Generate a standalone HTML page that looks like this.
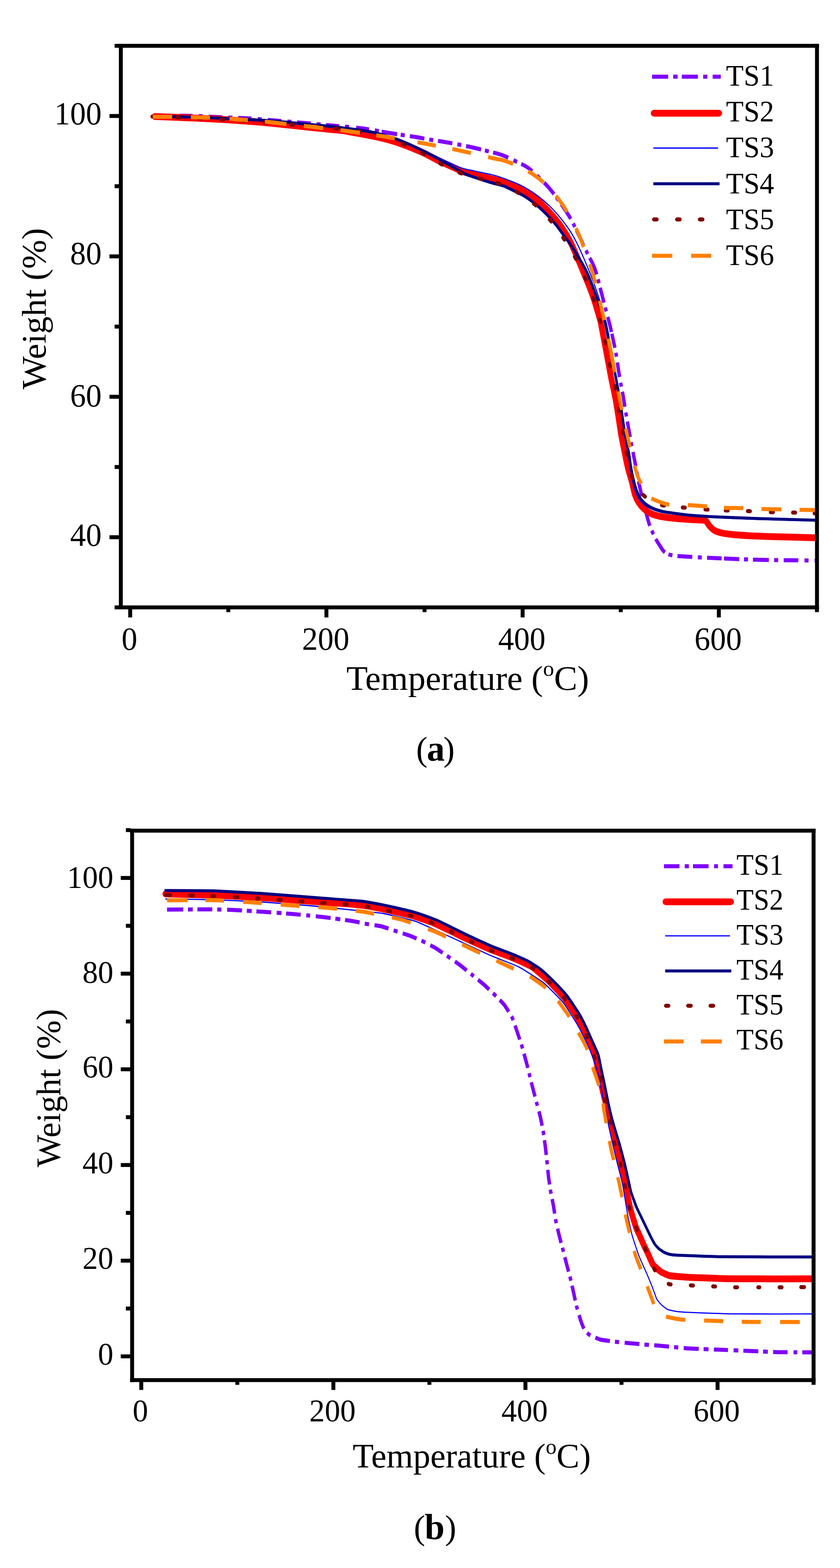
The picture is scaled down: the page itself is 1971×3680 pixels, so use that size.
<!DOCTYPE html>
<html lang="en"><head><meta charset="utf-8"><title>TGA curves</title>
<style>html,body{margin:0;padding:0;background:#fff}body{width:1971px;height:3680px;overflow:hidden}svg{display:block}text{font-family:"Liberation Serif","DejaVu Serif",serif;fill:#000}</style>
</head><body>
<svg width="1971" height="3680" viewBox="0 0 1971 3680">
<rect width="1971" height="3680" fill="#fff"/>
<clipPath id="clipa"><rect x="283.5" y="107.5" width="1633.5" height="1318.0"/></clipPath>
<g clip-path="url(#clipa)" fill="none" stroke-linejoin="round">
<g transform="scale(0.85 1)">
<path d="M421.2 272.5C436.9 272.4 484.7 271.3 515.3 271.7C545.9 272.1 574.9 273.9 604.7 275.0C634.5 276.1 672.9 277.3 694.1 278.3C715.3 279.3 708.8 279.4 731.8 281.0C754.7 282.6 802.4 285.8 831.8 288.0C861.2 290.2 880.6 291.9 908.2 294.1C935.9 296.3 971.2 298.2 997.6 301.0C1024.1 303.8 1048.0 308.2 1067.1 310.9C1086.1 313.6 1097.8 315.1 1111.8 317.0C1125.7 318.9 1137.5 320.1 1150.6 322.0C1163.7 323.9 1177.5 326.4 1190.6 328.3C1203.7 330.2 1216.5 331.6 1229.4 333.5C1242.4 335.4 1255.3 337.4 1268.2 339.6C1281.2 341.8 1294.4 344.1 1307.1 346.5C1319.7 348.9 1331.3 351.5 1344.2 354.3C1357.2 357.1 1371.7 359.6 1384.7 363.5C1397.7 367.4 1410.7 373.2 1422.4 378.0C1434.0 382.8 1444.3 386.0 1454.7 392.0C1465.1 398.0 1474.5 405.7 1484.7 414.0C1494.9 422.3 1506.3 432.0 1516.1 441.7C1525.9 451.4 1534.6 461.4 1543.5 472.0C1552.4 482.6 1562.5 495.6 1569.4 505.0C1576.3 514.5 1576.3 514.2 1584.7 528.7C1593.1 543.2 1610.3 574.7 1620.0 592.0C1629.7 609.3 1636.0 616.1 1642.8 632.5C1649.7 648.9 1655.1 671.1 1661.2 690.4C1667.2 709.7 1675.0 735.3 1679.1 748.4C1683.1 761.5 1681.8 755.9 1685.3 769.0C1688.7 782.1 1695.6 807.7 1699.8 827.0C1703.9 846.3 1707.0 868.1 1710.4 885.0C1713.7 901.9 1716.8 912.9 1720.0 928.4C1723.2 943.9 1724.7 955.2 1729.4 978.0C1734.1 1000.8 1744.3 1047.2 1748.2 1065.0C1752.2 1082.8 1749.7 1070.9 1752.9 1085.0C1756.2 1099.1 1761.5 1126.4 1767.8 1149.6C1774.0 1172.8 1784.6 1207.6 1790.2 1224.3C1795.9 1241.0 1797.7 1242.1 1801.5 1249.6C1805.3 1257.0 1809.5 1263.7 1812.9 1269.0C1816.4 1274.3 1819.0 1277.2 1822.0 1281.2C1825.0 1285.2 1828.0 1289.8 1831.2 1292.8C1834.4 1295.8 1837.4 1297.8 1841.2 1299.5C1845.0 1301.2 1849.3 1302.1 1854.1 1303.0C1858.9 1303.9 1860.6 1304.3 1870.1 1305.0C1879.6 1305.7 1897.3 1306.3 1910.9 1307.0C1924.5 1307.7 1923.2 1307.9 1951.8 1309.0C1980.3 1310.1 2031.2 1312.4 2082.4 1313.5C2133.5 1314.6 2229.4 1315.3 2258.8 1315.7" stroke="#7f00ff" stroke-width="9.5" stroke-linecap="butt" stroke-dasharray="28.6 15.4 11.1 19 36 16.9 11.1 16.7 38.1 16.2 11.1 16.3 36.7 17.2 11 17.1 37.3 16.7 11 15.7 38 16.3 11 15.1 37 15.5 11 19.5 36.1 16.2 11 7.8 43.4 9.9 11 14.4 40.5 13.7 11 13.2 40.1 14.2 11 13.3 42.3 10.8 11 12 43.6 15.5 10.8 12.5 34.6 16.8 10.3 15.7 38.4 9.3 10 11.8 43 12.7 9.7 8.9 39.4 14.4 9.7 10.6 43.7 12 9.5 11 36.7 11.8 9.5 13.8 36.9 4.3 33.7 12.2 9.5 13.6 34.6 13.8 9.5 12.1 36.3 13.5 9.5 12.2 37 12.5 9.5 13.6 35.3 12.9 9.5 13.4 36 14.5 9.5 12.2 36.7 12.4 9.7 12.7 40.6 10.9 11 14.2 40.9 15.4 11.1 14.4 40.4 6.4 42.1 13.2 11.1 13.6 43.9 14.7 11.1 15.2 40.3 17 11.1 16.6 10.7 5000"/>
<path d="M427.1 273.5C442.2 274.0 488.0 275.4 517.6 276.5C547.3 277.6 577.3 278.7 604.7 280.0C632.2 281.3 659.2 283.1 682.4 284.5C705.5 286.0 713.5 286.2 743.5 288.7C773.5 291.2 829.4 296.7 862.4 299.6C895.3 302.5 924.1 304.4 941.2 306.0C958.2 307.6 951.0 307.2 964.7 309.3C978.4 311.4 1007.3 315.8 1023.5 318.5C1039.7 321.3 1048.1 322.7 1061.9 325.8C1075.6 328.9 1088.3 331.8 1105.8 337.1C1123.3 342.5 1149.9 351.5 1167.0 358.0C1184.0 364.5 1194.5 370.5 1208.1 376.2C1221.8 381.8 1238.6 387.9 1249.0 391.9C1259.4 395.8 1264.8 397.9 1270.5 400.0C1276.3 402.1 1279.2 403.2 1283.5 404.4C1287.8 405.6 1291.9 406.4 1296.4 407.4C1301.0 408.4 1301.2 408.5 1310.6 410.5C1320.0 412.4 1340.0 416.4 1352.9 419.1C1365.9 421.7 1379.4 424.2 1388.2 426.3C1397.0 428.4 1395.8 428.0 1405.6 431.7C1415.3 435.3 1433.4 441.5 1446.9 448.2C1460.4 455.0 1473.2 462.3 1486.7 472.4C1500.1 482.4 1516.4 497.4 1527.7 508.4C1539.0 519.4 1546.3 528.0 1554.5 538.4C1562.7 548.9 1567.8 555.7 1576.6 571.4C1585.5 587.2 1597.9 613.0 1607.6 632.9C1617.3 652.8 1626.8 671.5 1634.8 690.8C1642.9 710.1 1651.4 735.6 1655.8 748.7C1660.2 761.8 1658.0 756.1 1661.0 769.2C1664.0 782.3 1669.7 807.9 1674.0 827.2C1678.2 846.5 1682.6 867.3 1686.7 885.2C1690.8 903.1 1695.2 919.2 1698.7 934.7C1702.1 950.2 1704.5 963.7 1707.2 978.2C1709.9 992.7 1711.9 1007.1 1714.9 1021.6C1717.9 1036.1 1722.1 1052.6 1725.1 1065.2C1728.2 1077.9 1729.9 1086.5 1733.2 1097.7C1736.4 1108.8 1741.3 1121.7 1744.6 1132.3C1747.9 1142.9 1749.9 1153.5 1752.9 1161.3C1755.9 1169.1 1758.5 1173.5 1762.7 1179.0C1766.9 1184.6 1772.5 1190.3 1778.2 1194.7C1783.8 1199.0 1789.9 1202.4 1796.7 1205.2C1803.5 1208.0 1808.8 1209.5 1819.2 1211.3C1829.5 1213.2 1845.5 1215.0 1858.8 1216.3C1872.2 1217.6 1886.5 1218.3 1899.3 1219.0C1912.0 1219.7 1927.5 1220.1 1935.3 1220.5C1943.1 1220.9 1943.4 1220.7 1945.9 1221.3C1948.4 1221.8 1948.1 1221.7 1950.4 1224.0C1952.6 1226.4 1955.7 1231.7 1959.4 1235.2C1963.2 1238.7 1967.5 1242.5 1972.8 1245.1C1978.0 1247.6 1983.5 1249.0 1990.8 1250.5C1998.1 1252.0 2003.2 1252.9 2016.5 1254.0C2029.8 1255.2 2051.0 1256.5 2070.6 1257.4C2090.2 1258.3 2102.7 1258.7 2134.1 1259.5C2165.5 1260.3 2238.0 1261.9 2258.8 1262.4" stroke="#ff0000" stroke-width="16" stroke-linecap="round"/>
<path d="M420.0 273.0C436.3 273.2 486.9 273.8 517.6 274.5C548.4 275.2 569.0 275.8 604.7 277.2C640.4 278.6 693.9 280.4 731.8 282.6C769.6 284.8 800.2 287.7 831.8 290.2C863.3 292.7 889.2 294.2 921.2 297.4C953.1 300.6 999.6 306.1 1023.5 309.5C1047.5 312.9 1051.0 314.7 1064.7 318.0C1078.4 321.3 1088.8 323.8 1105.9 329.5C1122.9 335.2 1146.7 344.1 1167.1 352.0C1187.5 359.9 1211.2 370.2 1228.2 377.0C1245.3 383.8 1255.7 388.9 1269.4 393.0C1283.1 397.1 1294.7 398.4 1310.6 401.5C1326.5 404.6 1348.9 407.8 1364.7 411.5C1380.5 415.2 1392.0 418.9 1405.6 423.5C1419.3 428.1 1433.0 432.6 1446.6 439.0C1460.2 445.4 1473.8 452.7 1487.4 461.7C1501.0 470.7 1514.6 480.5 1528.2 493.0C1541.9 505.5 1558.5 523.2 1569.4 536.5C1580.4 549.8 1584.7 557.0 1593.9 573.0C1603.1 589.0 1615.2 612.9 1624.6 632.5C1634.0 652.1 1642.5 671.1 1650.1 690.4C1657.8 709.7 1666.2 735.3 1670.6 748.4C1675.0 761.5 1673.3 755.9 1676.5 769.0C1679.6 782.1 1685.3 807.7 1689.4 827.0C1693.5 846.3 1697.5 867.1 1701.2 885.0C1704.9 902.9 1709.0 919.0 1711.8 934.5C1714.5 950.0 1715.6 963.5 1717.6 978.0C1719.7 992.5 1721.5 1006.9 1724.1 1021.4C1726.8 1035.9 1730.9 1051.9 1733.5 1065.0C1736.2 1078.1 1737.4 1087.3 1740.0 1100.0C1742.6 1112.7 1745.9 1129.7 1749.4 1140.9C1752.9 1152.1 1756.5 1159.8 1761.2 1167.0C1765.9 1174.2 1771.4 1179.3 1777.6 1184.0C1783.9 1188.7 1791.0 1192.0 1798.8 1195.0C1806.7 1198.0 1814.9 1200.2 1824.7 1202.0C1834.5 1203.8 1845.3 1204.7 1857.6 1206.0C1870.0 1207.3 1885.2 1208.8 1898.8 1210.0C1912.5 1211.2 1926.7 1212.2 1939.6 1213.0C1952.6 1213.8 1952.7 1214.0 1976.5 1215.0C2000.3 1216.0 2035.3 1217.4 2082.4 1218.7C2129.4 1220.0 2229.4 1222.3 2258.8 1223.0" stroke="#0000ff" stroke-width="2.8" stroke-linecap="butt"/>
<path d="M420.0 273.0C436.3 273.2 486.9 273.8 517.6 274.5C548.4 275.2 569.0 275.8 604.7 277.2C640.4 278.6 693.9 280.4 731.8 282.6C769.6 284.8 800.2 287.7 831.8 290.2C863.3 292.7 889.2 294.2 921.2 297.4C953.1 300.6 999.6 305.9 1023.5 309.5C1047.5 313.1 1051.0 315.6 1064.7 319.0C1078.4 322.4 1088.8 324.2 1105.9 330.0C1122.9 335.8 1146.7 344.9 1167.1 353.5C1187.5 362.1 1211.2 373.3 1228.2 381.3C1245.3 389.3 1260.0 397.0 1269.4 401.5C1278.8 406.0 1277.8 406.0 1284.7 408.5C1291.6 411.0 1299.2 413.2 1310.6 416.5C1322.0 419.8 1340.0 424.8 1352.9 428.0C1365.9 431.2 1379.5 433.6 1388.2 436.0C1397.0 438.4 1395.9 438.6 1405.6 442.6C1415.4 446.6 1433.0 452.8 1446.6 460.0C1460.2 467.2 1473.8 475.9 1487.4 486.0C1501.0 496.1 1516.3 509.3 1528.2 520.9C1540.1 532.5 1550.7 546.4 1558.8 555.7C1567.0 565.1 1567.5 564.2 1577.1 577.0C1586.7 589.8 1605.3 613.6 1616.5 632.5C1627.6 651.4 1635.6 671.1 1644.1 690.4C1652.6 709.7 1662.8 735.3 1667.6 748.4C1672.5 761.5 1670.1 755.9 1673.3 769.0C1676.5 782.1 1682.6 807.7 1687.1 827.0C1691.5 846.3 1695.8 867.1 1699.8 885.0C1703.7 902.9 1707.5 919.0 1710.6 934.5C1713.6 950.0 1715.6 963.5 1718.1 978.0C1720.7 992.5 1722.9 1006.9 1725.9 1021.4C1728.9 1035.9 1733.5 1051.9 1736.2 1065.0C1739.0 1078.1 1739.5 1087.3 1742.4 1100.0C1745.2 1112.7 1749.5 1129.7 1753.4 1140.9C1757.3 1152.1 1761.0 1160.0 1765.8 1167.0C1770.5 1174.0 1776.0 1178.3 1782.1 1182.6C1788.3 1186.9 1795.1 1190.1 1802.6 1193.0C1810.1 1195.9 1817.9 1198.1 1827.1 1200.0C1836.2 1201.9 1845.7 1202.8 1857.6 1204.3C1869.6 1205.8 1885.2 1207.5 1898.8 1208.7C1912.5 1209.9 1926.7 1210.6 1939.6 1211.3C1952.6 1212.0 1952.7 1212.1 1976.5 1213.0C2000.3 1213.9 2035.3 1215.4 2082.4 1216.7C2129.4 1218.0 2229.4 1220.3 2258.8 1221.0" stroke="#000080" stroke-width="7" stroke-linecap="butt"/>
<path d="M420.0 273.5C432.0 273.9 461.0 274.9 491.8 276.0C522.5 277.1 574.3 278.8 604.7 280.0C635.1 281.2 652.9 281.8 674.1 283.0C695.3 284.2 709.8 285.4 731.8 287.0C753.7 288.6 773.2 290.1 805.9 292.5C838.5 294.9 891.4 298.1 927.6 301.5C963.9 304.9 1000.7 309.2 1023.5 313.0C1046.4 316.8 1049.6 319.7 1064.7 324.0C1079.8 328.3 1097.1 332.6 1114.1 338.7C1131.2 344.8 1149.8 352.7 1167.1 360.4C1184.3 368.1 1200.4 377.3 1217.4 384.8C1234.5 392.3 1258.2 401.2 1269.4 405.5C1280.6 409.8 1279.6 409.1 1284.7 410.5C1289.8 411.9 1293.0 412.5 1300.0 414.0C1307.0 415.5 1314.2 416.8 1326.8 419.5C1339.5 422.2 1359.1 424.7 1376.0 430.0C1392.9 435.3 1411.5 443.0 1428.2 451.3C1444.9 459.6 1461.1 469.0 1476.2 480.0C1491.4 491.0 1505.9 504.1 1519.2 517.4C1532.5 530.7 1544.5 545.4 1556.0 560.0C1567.5 574.6 1578.0 589.5 1587.9 605.0C1597.8 620.5 1606.9 636.6 1615.3 652.8C1623.7 669.0 1631.3 685.3 1638.2 702.0C1645.2 718.7 1651.5 736.0 1656.9 752.8C1662.4 769.6 1666.6 785.7 1671.1 803.0C1675.5 820.3 1679.1 838.9 1683.5 856.5C1688.0 874.1 1693.5 891.1 1697.6 908.7C1701.8 926.3 1704.7 944.5 1708.2 962.0C1711.8 979.5 1715.2 996.8 1718.8 1014.0C1722.4 1031.2 1725.5 1047.6 1729.8 1065.0C1734.0 1082.4 1739.4 1105.0 1744.2 1118.3C1749.1 1131.6 1753.2 1137.5 1758.8 1145.0C1764.5 1152.5 1771.1 1158.2 1778.0 1163.5C1784.9 1168.8 1791.3 1173.2 1800.0 1177.0C1808.7 1180.8 1815.7 1183.6 1830.2 1186.0C1844.8 1188.4 1867.5 1189.7 1887.4 1191.3C1907.4 1192.9 1930.1 1194.6 1949.9 1195.7C1969.6 1196.8 1986.4 1197.4 2005.9 1198.0C2025.4 1198.6 2046.4 1198.8 2067.1 1199.5C2087.8 1200.2 2109.3 1201.4 2130.1 1202.0C2150.9 1202.6 2170.3 1202.5 2191.8 1203.0C2213.2 1203.5 2247.6 1204.7 2258.8 1205.0" stroke="#800000" stroke-width="9.5" stroke-linecap="round" stroke-dasharray="0 68.3 7.1 52.7 7.1 55 7.1 53.7 7.1 52.4 7.1 65.6 7.1 55.9 7.1 52.1 7 56 7 55.7 6.9 58.1 6.9 50.4 6.8 49.1 6.8 50 6.9 51.4 7 43.3 6.9 49.6 6.8 49.3 6.6 50.5 6.5 49.9 6.3 48.9 6.3 48.9 6.2 48.1 6.1 48 6.1 46.1 6.1 48.9 6.1 48 6 48.3 6 47 6 46.1 6 49.2 6.1 51 6.6 50.7 7 50.4 7.1 55.6 7.1 49 7.1 54.1 7.1 56.1 7.1 54.6 7.1 52.2 7.1 5000"/>
<path d="M421.8 273.9C437.7 274.0 487.2 274.2 517.6 274.8C548.1 275.4 577.3 276.0 604.7 277.2C632.2 278.4 659.2 280.4 682.4 282.0C705.5 283.6 713.5 284.0 743.5 286.6C773.5 289.2 825.5 294.2 862.4 297.8C899.2 301.4 931.5 304.5 964.7 308.3C998.0 312.1 1026.4 315.8 1061.9 320.7C1097.4 325.6 1142.1 332.2 1177.5 337.8C1213.0 343.4 1243.0 348.5 1274.7 354.3C1306.4 360.1 1348.5 368.9 1367.8 372.6C1387.0 376.3 1379.0 373.3 1390.2 376.5C1401.5 379.7 1420.3 385.8 1435.3 392.0C1450.3 398.2 1466.3 405.5 1480.0 414.0C1493.7 422.5 1505.9 432.4 1517.6 443.0C1529.4 453.6 1540.4 464.9 1550.6 477.4C1560.8 489.9 1570.4 504.7 1578.8 518.0C1587.3 531.3 1592.2 538.3 1601.2 557.4C1610.2 576.5 1624.7 610.3 1632.9 632.5C1641.2 654.7 1644.9 671.1 1650.6 690.4C1656.3 709.7 1661.0 725.6 1667.1 748.4C1673.1 771.2 1680.1 797.0 1687.1 827.0C1694.0 857.0 1701.2 896.0 1708.6 928.4C1716.0 960.8 1723.4 991.5 1731.4 1021.4C1739.4 1051.3 1749.7 1088.6 1756.5 1108.0C1763.2 1127.4 1767.8 1129.9 1771.8 1138.0C1775.7 1146.1 1775.5 1151.2 1780.0 1156.5C1784.5 1161.8 1791.6 1166.0 1798.5 1169.6C1805.3 1173.2 1813.0 1175.5 1821.2 1178.0C1829.4 1180.5 1834.6 1183.0 1847.5 1184.3C1860.5 1185.5 1881.5 1184.8 1898.8 1185.5C1916.2 1186.2 1935.2 1187.5 1951.8 1188.5C1968.4 1189.5 1981.8 1191.0 1998.5 1191.7C2015.1 1192.4 2034.5 1192.0 2051.8 1192.5C2069.0 1193.0 2084.5 1194.0 2102.0 1194.5C2119.5 1195.0 2139.5 1195.2 2157.1 1195.5C2174.6 1195.8 2190.1 1196.2 2207.1 1196.5C2224.0 1196.8 2250.2 1196.9 2258.8 1197.0" stroke="#ff8000" stroke-width="9.5" stroke-linecap="butt" stroke-dasharray="53.6 51.4 52.8 53.7 50.9 47.5 59.7 48.1 53.4 48.3 54.1 45.6 51.5 63.1 51.5 46.2 52 48.4 70.9 45.4 50 46.2 48.8 45.3 49.2 43.5 47.9 42.1 47.8 44.6 81.2 45.3 44.5 45.1 45.6 44.6 46.9 46.3 51.4 51.3 53 46.8 53.3 50.3 55.1 50 51.8 5000"/>
</g>
</g>
<g fill="#000">
<rect x="278.9" y="102.9" width="9.2" height="1327.2"/>
<rect x="1912.4" y="102.9" width="9.2" height="1327.2"/>
<rect x="278.9" y="102.9" width="1642.7" height="9.2"/>
<rect x="278.9" y="1420.9" width="1642.7" height="9.2"/>
<rect x="268.9" y="102.9" width="11.0" height="9.2"/>
<rect x="256.9" y="267.6" width="23.0" height="9.2"/>
<rect x="268.9" y="432.4" width="11.0" height="9.2"/>
<rect x="256.9" y="597.1" width="23.0" height="9.2"/>
<rect x="268.9" y="761.9" width="11.0" height="9.2"/>
<rect x="256.9" y="926.6" width="23.0" height="9.2"/>
<rect x="268.9" y="1091.4" width="11.0" height="9.2"/>
<rect x="256.9" y="1256.2" width="23.0" height="9.2"/>
<rect x="268.9" y="1420.9" width="11.0" height="9.2"/>
<rect x="300.9" y="1429.1" width="9.2" height="20.0"/>
<rect x="531.1" y="1429.1" width="9.2" height="7.5"/>
<rect x="761.3" y="1429.1" width="9.2" height="20.0"/>
<rect x="991.5" y="1429.1" width="9.2" height="7.5"/>
<rect x="1221.7" y="1429.1" width="9.2" height="20.0"/>
<rect x="1451.9" y="1429.1" width="9.2" height="7.5"/>
<rect x="1682.1" y="1429.1" width="9.2" height="20.0"/>
<rect x="1912.3" y="1429.1" width="9.2" height="7.5"/>
</g>
<g font-size="75.5">
<text transform="translate(238.5 292.2) scale(0.98 1)" text-anchor="end">100</text>
<text transform="translate(238.5 620.3) scale(0.98 1)" text-anchor="end">80</text>
<text transform="translate(238.5 953.7) scale(0.98 1)" text-anchor="end">60</text>
<text transform="translate(238.5 1281.3) scale(0.98 1)" text-anchor="end">40</text>
<text transform="translate(303.8 1524.5) scale(0.98 1)" text-anchor="middle">0</text>
<text transform="translate(764.2 1524.5) scale(0.98 1)" text-anchor="middle">200</text>
<text transform="translate(1224.6 1524.5) scale(0.98 1)" text-anchor="middle">400</text>
<text transform="translate(1685.0 1524.5) scale(0.98 1)" text-anchor="middle">600</text>
</g>
<text transform="translate(812.7 1619.3) scale(1.01 1)" font-size="81.3">Temperature (<tspan font-size="51.2" dy="-33.3">o</tspan><tspan dy="33.3">C)</tspan></text>
<text transform="translate(106.8 724.5) rotate(-90) scale(1.01 1)" font-size="81.3" text-anchor="middle">Weight (%)</text>
<g fill="none">
<path d="M1530.0 180.0H1567.8M1579.6 180.0H1590.0M1599.7 180.0H1637.5M1650.0 180.0H1659.7M1672.2 180.0H1691.2" stroke="#7f00ff" stroke-width="9.5" stroke-linecap="butt"/>
<path d="M1535.0 265.7H1686.4" stroke="#ff0000" stroke-width="16" stroke-linecap="round"/>
<path d="M1533.0 347.5H1685.0" stroke="#0000ff" stroke-width="2.8" stroke-linecap="butt"/>
<path d="M1533.0 431.3H1688.4" stroke="#000080" stroke-width="7" stroke-linecap="butt"/>
<path d="M1534.8 515.1H1540.8M1588.8 515.1H1594.8M1642.2 515.1H1648.2" stroke="#800000" stroke-width="9.5" stroke-linecap="round"/>
<path d="M1530.0 600.2H1577.5M1621.8 600.2H1668.8" stroke="#ff8000" stroke-width="9.5" stroke-linecap="butt"/>
</g>
<g font-size="70.5">
<text transform="translate(1703.6 201.0) scale(0.96 1)">TS1</text>
<text transform="translate(1703.6 285.2) scale(0.96 1)">TS2</text>
<text transform="translate(1703.6 369.4) scale(0.96 1)">TS3</text>
<text transform="translate(1703.6 453.6) scale(0.96 1)">TS4</text>
<text transform="translate(1703.6 537.8) scale(0.96 1)">TS5</text>
<text transform="translate(1703.6 622.0) scale(0.96 1)">TS6</text>
</g>
<clipPath id="clipb"><rect x="310.0" y="1949.5" width="1599.0" height="1289.5"/></clipPath>
<g clip-path="url(#clipb)" fill="none" stroke-linejoin="round">
<g transform="scale(0.85 1)">
<path d="M461.2 2134.7C469.6 2134.7 575.9 2134.1 588.2 2134.2C600.5 2134.3 636.5 2135.3 645.9 2135.7C655.2 2136.1 717.3 2139.4 728.2 2140.0C739.1 2140.6 798.5 2144.4 809.4 2145.2C820.3 2146.0 880.8 2151.1 891.8 2152.2C902.7 2153.3 965.5 2160.6 973.5 2161.7C981.5 2162.8 1006.5 2167.6 1011.8 2168.4C1017.0 2169.2 1047.4 2172.9 1052.7 2174.0C1058.0 2175.1 1086.5 2183.5 1091.8 2185.0C1097.0 2186.5 1126.0 2194.4 1131.1 2196.0C1136.2 2197.6 1163.5 2207.7 1168.2 2209.6C1173.0 2211.5 1197.7 2222.6 1202.4 2225.0C1207.0 2227.4 1233.9 2243.3 1238.5 2246.0C1243.0 2248.7 1266.3 2262.7 1270.6 2265.5C1274.9 2268.3 1299.0 2285.0 1303.3 2288.0C1307.6 2291.0 1331.2 2307.3 1335.3 2310.4C1339.4 2313.5 1360.9 2330.8 1364.7 2334.0C1368.5 2337.2 1388.5 2354.4 1391.8 2358.0C1395.1 2361.6 1411.7 2384.4 1414.1 2388.7C1416.5 2393.0 1426.0 2417.6 1427.8 2422.0C1429.5 2426.4 1438.8 2450.0 1440.7 2455.4C1442.6 2460.8 1454.4 2497.2 1456.1 2503.0C1457.9 2508.8 1465.4 2536.3 1467.1 2542.0C1468.8 2547.7 1480.0 2583.7 1481.6 2589.0C1483.3 2594.3 1490.6 2617.5 1491.8 2622.0C1493.0 2626.5 1498.8 2652.3 1499.8 2657.0C1500.7 2661.7 1504.8 2687.4 1505.5 2692.0C1506.2 2696.6 1509.4 2722.1 1510.0 2726.7C1510.6 2731.3 1513.5 2756.8 1514.1 2761.4C1514.8 2766.0 1519.0 2791.2 1519.9 2795.7C1520.8 2800.2 1526.8 2825.0 1527.8 2829.6C1528.7 2834.2 1533.1 2859.5 1534.1 2864.0C1535.1 2868.5 1541.8 2893.2 1543.1 2897.7C1544.3 2902.2 1552.0 2926.8 1553.4 2931.3C1554.8 2935.8 1562.1 2960.5 1563.5 2965.0C1564.9 2969.5 1572.8 2994.5 1574.1 2999.0C1575.4 3003.5 1582.0 3028.5 1583.2 3033.0C1584.4 3037.5 1590.4 3061.9 1591.8 3066.4C1593.1 3070.9 1602.1 3096.8 1603.5 3100.4C1604.9 3104.0 1611.5 3117.9 1612.9 3120.0C1614.4 3122.1 1622.9 3130.4 1625.9 3132.0C1628.9 3133.6 1652.8 3142.9 1657.6 3144.0C1662.5 3145.1 1693.2 3148.4 1698.6 3149.0C1704.0 3149.6 1733.7 3152.1 1739.2 3152.5C1744.6 3152.9 1774.6 3155.3 1780.0 3155.7C1785.4 3156.1 1815.0 3157.9 1820.5 3158.3C1825.9 3158.7 1856.5 3161.3 1861.9 3161.7C1867.3 3162.1 1893.6 3164.4 1901.8 3164.8C1909.9 3165.2 1973.5 3167.2 1984.4 3167.6C1995.3 3168.0 2054.4 3170.0 2065.3 3170.4C2076.2 3170.8 2135.6 3173.2 2147.9 3173.4C2160.2 3173.6 2242.6 3174.0 2249.4 3174.0" stroke="#7f00ff" stroke-width="9.5" stroke-linecap="butt" stroke-dasharray="44.8 12.9 13.1 12.9 40.9 13.9 11.6 15.6 41.4 13 13.5 12.9 41.2 15.1 13.2 12.5 40.9 15.3 10.7 15.3 41.7 13 13.6 13 40.9 14.3 12.2 15.1 39.6 14.5 11.6 14.6 40.3 14.1 11.9 14.8 38.6 13.7 11.3 14.6 38.6 13.9 10.3 14 38.4 13.5 11.4 13.2 37.2 13.3 10.5 13.1 35.5 12.5 10.2 12.7 34.9 13.2 9 12.7 35.2 13 9.6 13.6 35 12.2 10.3 12 35.2 12.2 10 12.8 34.9 12.1 10 12.7 34.9 13 10.1 12.9 35 11.9 10.2 13.1 35.4 12.1 10.3 11.9 35.9 12.4 9.7 13.6 34.7 13.2 11.3 14.3 41.1 13.8 11.8 15.4 40.9 13.6 12.9 14.2 41.2 13.8 12.2 14.6 41.7 13.4 13.6 14.7 39.2 15.4 13 13.9 41.3 13.1 13.2 14.3 40.4 16.4 10.3 13.6 35.1 5000"/>
<path d="M456.5 2098.0C465.3 2098.2 570.4 2100.3 588.2 2100.9C606.1 2101.5 706.5 2105.7 724.7 2106.7C742.9 2107.7 846.0 2114.5 861.2 2115.4C876.4 2116.3 942.7 2120.1 952.9 2120.8C963.1 2121.5 1006.0 2125.3 1014.1 2126.3C1022.3 2127.4 1067.3 2135.1 1075.3 2136.5C1083.3 2138.0 1126.3 2146.2 1134.1 2148.1C1141.9 2150.0 1185.4 2162.1 1192.9 2164.6C1200.4 2167.2 1240.8 2183.7 1247.0 2186.2C1253.1 2188.7 1277.5 2199.1 1284.6 2201.9C1291.7 2204.7 1344.1 2224.9 1352.9 2228.0C1361.6 2231.0 1408.0 2245.2 1415.8 2248.0C1423.6 2250.7 1463.5 2266.1 1470.3 2269.9C1477.0 2273.7 1511.8 2299.9 1517.7 2304.7C1523.5 2309.5 1553.2 2337.0 1558.2 2342.4C1563.1 2347.9 1588.0 2379.9 1592.0 2385.9C1596.1 2391.9 1616.1 2426.3 1619.4 2432.4C1622.8 2438.6 1640.3 2472.0 1642.7 2478.3C1645.1 2484.7 1653.4 2521.2 1655.2 2527.7C1656.9 2534.3 1666.8 2571.0 1668.6 2577.1C1670.4 2583.1 1679.7 2611.7 1681.7 2618.3C1683.7 2624.9 1696.6 2668.5 1698.7 2676.3C1700.9 2684.0 1712.1 2726.9 1714.0 2734.2C1715.9 2741.6 1725.9 2779.5 1727.6 2786.2C1729.3 2793.0 1737.7 2829.1 1739.5 2835.3C1741.4 2841.5 1753.3 2874.7 1755.1 2879.1C1756.9 2883.6 1765.0 2898.3 1766.6 2901.4C1768.2 2904.5 1777.6 2922.9 1779.0 2925.4C1780.3 2927.9 1785.6 2936.6 1787.2 2939.4C1788.8 2942.3 1800.2 2965.2 1802.8 2968.2C1805.3 2971.3 1821.7 2983.4 1824.8 2985.1C1827.9 2986.8 1844.4 2993.2 1849.4 2994.0C1854.4 2994.9 1888.0 2997.3 1900.0 2997.8C1912.0 2998.3 2006.1 3001.1 2029.4 3001.3C2052.7 3001.5 2234.7 3001.3 2249.4 3001.3" stroke="#ff0000" stroke-width="16" stroke-linecap="round"/>
<path d="M456.5 2110.0C465.3 2110.1 570.4 2111.0 588.2 2111.5C606.1 2112.0 706.5 2116.0 724.7 2117.0C742.9 2118.0 843.0 2124.6 861.2 2126.0C879.4 2127.4 984.5 2136.8 997.6 2138.0C1010.8 2139.2 1048.8 2142.4 1058.8 2144.0C1068.9 2145.6 1135.5 2158.8 1148.2 2162.6C1161.0 2166.4 1236.9 2196.4 1250.6 2201.7C1264.2 2207.0 1340.8 2237.5 1352.9 2242.0C1365.1 2246.5 1423.1 2265.3 1432.9 2269.6C1442.8 2273.9 1493.0 2301.4 1501.2 2307.0C1509.3 2312.6 1548.9 2346.8 1555.3 2353.6C1561.6 2360.4 1591.7 2401.5 1596.5 2408.7C1601.3 2415.9 1623.4 2453.6 1627.1 2461.0C1630.7 2468.4 1648.7 2511.3 1651.2 2519.0C1653.7 2526.7 1662.7 2568.5 1664.7 2577.0C1666.7 2585.5 1678.7 2637.3 1681.2 2647.0C1683.6 2656.7 1699.1 2713.1 1701.6 2722.0C1704.1 2730.9 1716.7 2771.5 1718.7 2780.0C1720.8 2788.5 1730.6 2842.0 1732.4 2850.0C1734.1 2858.0 1743.2 2893.5 1745.3 2900.0C1747.4 2906.5 1760.9 2941.1 1763.5 2947.0C1766.2 2952.9 1782.7 2983.8 1785.2 2988.7C1787.6 2993.6 1798.6 3016.0 1800.5 3020.0C1802.3 3024.0 1811.3 3045.9 1812.9 3048.7C1814.6 3051.5 1823.0 3060.0 1825.1 3061.7C1827.1 3063.4 1840.3 3072.4 1843.5 3073.5C1846.8 3074.6 1868.2 3078.2 1874.1 3078.7C1880.0 3079.2 1922.1 3080.9 1932.5 3081.2C1942.8 3081.5 2008.3 3083.5 2029.4 3083.7C2050.5 3083.9 2234.7 3083.7 2249.4 3083.7" stroke="#0000ff" stroke-width="2.8" stroke-linecap="butt"/>
<path d="M454.1 2090.0C463.1 2090.0 570.2 2090.2 588.2 2090.7C606.3 2091.2 706.5 2096.0 724.7 2097.0C742.9 2098.0 843.0 2104.8 861.2 2106.0C879.4 2107.2 985.8 2114.0 997.6 2115.0C1009.5 2116.0 1034.0 2120.0 1038.9 2120.8C1043.9 2121.6 1067.1 2125.6 1071.6 2126.4C1076.2 2127.2 1102.6 2132.3 1107.2 2133.2C1111.8 2134.1 1136.0 2139.0 1140.5 2140.1C1145.0 2141.2 1170.1 2148.2 1174.6 2149.6C1179.1 2151.0 1203.7 2158.9 1208.0 2160.5C1212.3 2162.1 1234.3 2171.3 1238.5 2173.0C1242.6 2174.7 1265.7 2184.5 1269.9 2186.2C1274.1 2187.9 1297.0 2197.5 1301.1 2199.1C1305.1 2200.7 1327.0 2209.2 1331.1 2210.8C1335.2 2212.4 1358.1 2221.1 1362.5 2222.6C1366.8 2224.1 1391.7 2232.0 1396.0 2233.4C1400.3 2234.8 1423.3 2242.5 1427.4 2244.0C1431.5 2245.5 1453.7 2253.9 1457.8 2255.8C1461.8 2257.7 1484.4 2269.7 1488.2 2272.1C1492.0 2274.5 1511.5 2289.2 1514.9 2291.9C1518.4 2294.6 1536.7 2310.2 1539.9 2313.1C1543.1 2316.0 1560.4 2331.9 1563.3 2335.0C1566.2 2338.1 1580.8 2356.1 1583.4 2359.4C1586.0 2362.7 1599.9 2381.0 1602.2 2384.5C1604.6 2388.0 1616.2 2407.8 1618.2 2411.4C1620.2 2415.0 1630.0 2433.9 1632.2 2438.2C1634.5 2442.5 1649.7 2470.6 1651.5 2475.4C1653.4 2480.2 1658.8 2505.4 1660.0 2510.0C1661.2 2514.6 1667.7 2540.3 1668.8 2545.0C1670.0 2549.7 1675.9 2575.4 1677.1 2580.0C1678.2 2584.6 1684.5 2609.4 1685.9 2614.0C1687.2 2618.6 1695.5 2644.1 1697.1 2648.7C1698.6 2653.3 1707.6 2677.6 1709.4 2683.0C1711.2 2688.4 1722.4 2724.2 1724.0 2729.6C1725.6 2735.0 1732.0 2759.7 1733.2 2764.3C1734.4 2768.9 1740.7 2794.4 1742.4 2799.0C1744.0 2803.6 1755.2 2829.4 1757.5 2834.0C1759.9 2838.6 1774.7 2864.3 1777.2 2868.7C1779.7 2873.1 1792.8 2896.5 1794.8 2900.0C1796.9 2903.5 1806.6 2918.8 1808.2 2920.9C1809.9 2923.0 1818.3 2930.3 1820.0 2931.5C1821.7 2932.7 1832.2 2938.7 1834.1 2939.5C1836.1 2940.3 1847.2 2943.6 1849.4 2944.0C1851.6 2944.4 1857.8 2945.4 1867.6 2945.8C1877.5 2946.2 1971.8 2949.3 1997.3 2949.6C2022.7 2949.9 2232.6 2950.0 2249.4 2950.0" stroke="#000080" stroke-width="7" stroke-linecap="butt"/>
<path d="M457.6 2100.6C466.4 2100.8 570.4 2102.4 588.2 2103.0C606.0 2103.6 706.5 2108.0 724.7 2109.0C742.9 2110.0 845.9 2116.6 861.2 2117.5C876.4 2118.4 943.4 2121.6 953.6 2122.3C963.9 2123.0 1006.6 2126.9 1014.7 2128.0C1022.8 2129.1 1067.0 2136.9 1074.9 2138.3C1082.9 2139.7 1126.6 2147.8 1134.5 2149.6C1142.3 2151.4 1185.1 2163.5 1192.6 2166.0C1200.1 2168.5 1241.4 2185.1 1247.5 2187.6C1253.7 2190.1 1277.7 2200.9 1284.7 2203.7C1291.7 2206.5 1344.2 2226.7 1352.9 2229.8C1361.7 2232.9 1408.0 2247.0 1415.9 2249.8C1423.7 2252.6 1463.7 2267.8 1470.5 2271.6C1477.3 2275.4 1512.2 2301.5 1518.1 2306.3C1524.0 2311.1 1553.8 2338.6 1558.8 2344.0C1563.8 2349.4 1588.8 2381.5 1592.9 2387.5C1597.1 2393.5 1617.3 2427.8 1620.5 2434.0C1623.7 2440.2 1638.5 2473.6 1640.9 2480.0C1643.4 2486.4 1655.7 2522.8 1657.6 2529.5C1659.6 2536.2 1668.8 2573.1 1670.6 2580.0C1672.4 2586.9 1683.0 2625.6 1684.7 2632.5C1686.4 2639.4 1694.5 2676.2 1696.5 2683.0C1698.4 2689.8 1711.6 2727.2 1713.5 2734.0C1715.5 2740.8 1723.9 2777.9 1725.5 2784.6C1727.1 2791.3 1735.3 2828.3 1737.4 2835.0C1739.6 2841.7 1754.7 2878.1 1757.6 2884.6C1760.6 2891.1 1778.8 2926.3 1782.1 2932.6C1785.4 2938.9 1803.9 2975.0 1806.7 2979.6C1809.5 2984.2 1821.9 2999.7 1824.7 3002.0C1827.5 3004.3 1843.3 3013.3 1849.1 3014.3C1854.8 3015.3 1902.9 3016.6 1911.1 3016.9C1919.2 3017.2 1963.3 3018.9 1971.4 3019.2C1979.5 3019.5 2020.8 3021.1 2032.9 3021.2C2045.1 3021.3 2139.7 3021.2 2154.1 3021.2C2168.5 3021.2 2243.1 3020.6 2249.4 3020.6" stroke="#800000" stroke-width="9.5" stroke-linecap="round" stroke-dasharray="0 5.3 7.1 53.9 8.8 52.2 6.6 56 8.9 52.2 5.9 53.3 8.6 52.3 7.6 52.8 8.7 53.1 7.2 53.9 6.9 53 7 53.6 7 53.5 6.9 52.5 6.7 53.3 6.4 53 6.4 53.2 7.3 53.1 6.6 50 7 49.9 6.4 48.9 5.5 47.6 6.4 47.1 5.9 47.1 6.3 45.8 6.5 46.1 6 45.9 6 46.7 6.1 46 6 46.8 6 46.5 6.2 47.7 6.2 47.4 5.6 50.1 6.9 54.4 7.2 54.5 6.8 53.7 6.9 57.3 4 54.6 7 52.8 9.2 5000"/>
<path d="M461.2 2113.0C469.6 2113.0 572.7 2112.2 588.2 2112.5C603.8 2112.8 680.2 2116.9 694.1 2117.7C708.1 2118.5 783.8 2123.8 797.6 2124.6C811.5 2125.4 888.2 2129.4 902.0 2130.4C915.8 2131.4 990.6 2138.2 1004.2 2140.0C1017.9 2141.8 1093.9 2154.9 1107.1 2158.0C1120.3 2161.1 1189.7 2182.5 1202.4 2187.0C1215.0 2191.5 1283.9 2220.0 1296.5 2225.0C1309.0 2230.0 1379.2 2258.2 1390.2 2262.6C1401.3 2267.0 1454.5 2287.8 1461.9 2291.3C1469.3 2294.8 1496.0 2310.7 1501.2 2314.5C1506.4 2318.3 1535.6 2344.6 1540.0 2349.0C1544.4 2353.4 1563.9 2376.1 1567.6 2381.0C1571.4 2385.9 1593.1 2417.9 1596.5 2423.0C1599.9 2428.1 1616.2 2452.6 1618.8 2458.0C1621.4 2463.4 1633.6 2498.4 1635.8 2504.0C1637.9 2509.6 1649.2 2536.4 1651.2 2542.0C1653.1 2547.6 1663.6 2584.1 1664.7 2588.4C1665.8 2592.7 1666.1 2599.4 1667.5 2606.4C1668.9 2613.4 1683.0 2681.4 1685.9 2693.0C1688.7 2704.6 1707.1 2768.4 1710.1 2780.0C1713.1 2791.6 1727.7 2856.2 1730.6 2867.0C1733.4 2877.8 1750.0 2934.4 1752.9 2942.6C1755.8 2950.8 1771.5 2984.0 1774.1 2990.0C1776.8 2996.0 1790.9 3028.3 1792.9 3033.0C1795.0 3037.7 1803.2 3057.0 1804.7 3060.0C1806.2 3063.0 1813.9 3076.1 1815.9 3078.0C1817.8 3079.9 1829.7 3087.7 1834.1 3089.0C1838.5 3090.3 1873.5 3096.3 1881.9 3097.0C1890.3 3097.7 1947.8 3099.2 1960.0 3099.6C1972.2 3100.0 2045.4 3102.2 2064.7 3102.4C2084.0 3102.6 2237.1 3102.7 2249.4 3102.7" stroke="#ff8000" stroke-width="9.5" stroke-linecap="butt" stroke-dasharray="56.6 48.8 51.9 52.6 52.1 51.8 52.1 52.3 51.7 51.3 51.9 49.3 53.8 49.7 53.3 47.7 54.1 47.8 51.6 48.6 51.5 45.8 48.3 44.9 47.3 43.3 46.8 42.8 47.6 42.3 46.1 42.2 48.1 41.8 44.6 44.3 46.4 44.1 45.4 46.9 53.7 51.8 52.8 51 52.4 53.4 54.4 5000"/>
</g>
</g>
<g fill="#000">
<rect x="305.4" y="1944.9" width="9.2" height="1298.7"/>
<rect x="1904.4" y="1944.9" width="9.2" height="1298.7"/>
<rect x="305.4" y="1944.9" width="1608.2" height="9.2"/>
<rect x="305.4" y="3234.4" width="1608.2" height="9.2"/>
<rect x="295.4" y="1943.6" width="11.0" height="9.2"/>
<rect x="283.4" y="2055.9" width="23.0" height="9.2"/>
<rect x="295.4" y="2168.2" width="11.0" height="9.2"/>
<rect x="283.4" y="2280.5" width="23.0" height="9.2"/>
<rect x="295.4" y="2392.7" width="11.0" height="9.2"/>
<rect x="283.4" y="2505.0" width="23.0" height="9.2"/>
<rect x="295.4" y="2617.3" width="11.0" height="9.2"/>
<rect x="283.4" y="2729.6" width="23.0" height="9.2"/>
<rect x="295.4" y="2841.9" width="11.0" height="9.2"/>
<rect x="283.4" y="2954.1" width="23.0" height="9.2"/>
<rect x="295.4" y="3066.4" width="11.0" height="9.2"/>
<rect x="283.4" y="3178.7" width="23.0" height="9.2"/>
<rect x="326.9" y="3242.6" width="9.2" height="19.5"/>
<rect x="552.3" y="3242.6" width="9.2" height="7.5"/>
<rect x="777.6" y="3242.6" width="9.2" height="19.5"/>
<rect x="1003.0" y="3242.6" width="9.2" height="7.5"/>
<rect x="1228.3" y="3242.6" width="9.2" height="19.5"/>
<rect x="1453.7" y="3242.6" width="9.2" height="7.5"/>
<rect x="1679.1" y="3242.6" width="9.2" height="19.5"/>
<rect x="1904.4" y="3242.6" width="9.2" height="7.5"/>
</g>
<g font-size="74">
<text transform="translate(266.0 2083.5) scale(0.98 1)" text-anchor="end">100</text>
<text transform="translate(266.0 2306.7) scale(0.98 1)" text-anchor="end">80</text>
<text transform="translate(266.0 2529.0) scale(0.98 1)" text-anchor="end">60</text>
<text transform="translate(266.0 2753.8) scale(0.98 1)" text-anchor="end">40</text>
<text transform="translate(266.0 2978.4) scale(0.98 1)" text-anchor="end">20</text>
<text transform="translate(266.0 3203.0) scale(0.98 1)" text-anchor="end">0</text>
<text transform="translate(329.5 3336.0) scale(0.98 1)" text-anchor="middle">0</text>
<text transform="translate(780.2 3336.0) scale(0.98 1)" text-anchor="middle">200</text>
<text transform="translate(1230.9 3336.0) scale(0.98 1)" text-anchor="middle">400</text>
<text transform="translate(1681.7 3336.0) scale(0.98 1)" text-anchor="middle">600</text>
</g>
<text transform="translate(827.4 3444.4) scale(1.01 1)" font-size="79.8">Temperature (<tspan font-size="50.3" dy="-32.7">o</tspan><tspan dy="32.7">C)</tspan></text>
<text transform="translate(141.2 2553.7) rotate(-90) scale(1.01 1)" font-size="79.8" text-anchor="middle">Weight (%)</text>
<g fill="none">
<path d="M1558.0 2033.0H1594.3M1606.7 2033.0H1616.4M1626.0 2033.0H1662.6M1675.6 2033.0H1684.7M1697.6 2033.0H1718.8" stroke="#7f00ff" stroke-width="9.5" stroke-linecap="butt"/>
<path d="M1562.7 2116.4H1714.1" stroke="#ff0000" stroke-width="16" stroke-linecap="round"/>
<path d="M1560.8 2196.3H1712.8" stroke="#0000ff" stroke-width="2.8" stroke-linecap="butt"/>
<path d="M1560.8 2278.8H1716.0" stroke="#000080" stroke-width="7" stroke-linecap="butt"/>
<path d="M1562.8 2360.5H1568.2M1614.8 2360.5H1620.8M1667.3 2360.5H1673.5" stroke="#800000" stroke-width="9.5" stroke-linecap="round"/>
<path d="M1558.0 2444.2H1604.0M1644.5 2444.2H1693.5" stroke="#ff8000" stroke-width="9.5" stroke-linecap="butt"/>
</g>
<g font-size="69.5">
<text transform="translate(1728.1 2052.8) scale(0.95 1)">TS1</text>
<text transform="translate(1728.1 2134.9) scale(0.95 1)">TS2</text>
<text transform="translate(1728.1 2217.0) scale(0.95 1)">TS3</text>
<text transform="translate(1728.1 2299.1) scale(0.95 1)">TS4</text>
<text transform="translate(1728.1 2381.2) scale(0.95 1)">TS5</text>
<text transform="translate(1728.1 2463.3) scale(0.95 1)">TS6</text>
</g>
<text y="1784.5" font-size="80" text-anchor="middle"><tspan x="989.9">(</tspan><tspan x="1022.5" font-weight="bold" font-size="84">a</tspan><tspan x="1053.5" font-size="80">)</tspan></text>
<text y="3611.5" font-size="80" text-anchor="middle"><tspan x="984.3">(</tspan><tspan x="1019.8" font-weight="bold" font-size="84">b</tspan><tspan x="1057.4" font-size="80">)</tspan></text>
</svg>
</body></html>
